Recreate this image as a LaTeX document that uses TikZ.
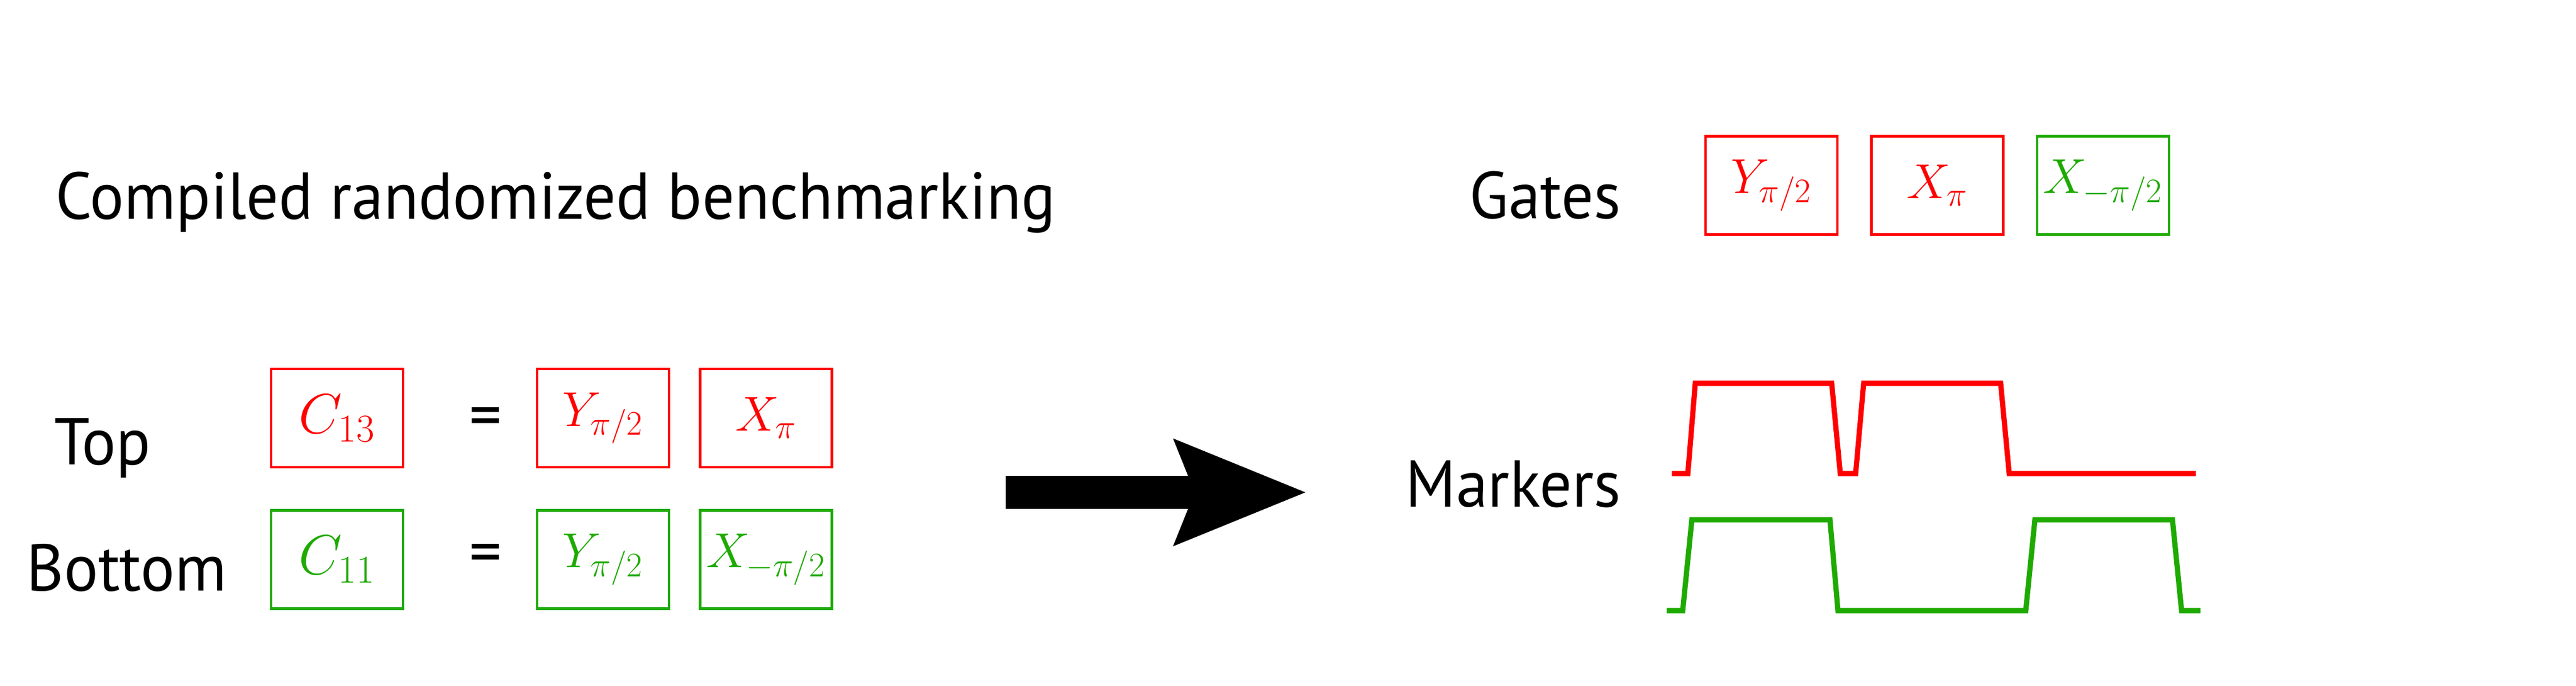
\documentclass[tikz,border=0pt]{standalone}
\usepackage{fix-cm}
\usepackage{fontspec}
\setmainfont{PT Sans}[FakeStretch=0.965]
\usetikzlibrary{positioning}
\usetikzlibrary{arrows.meta}
\definecolor{gatered}{RGB}{255,0,0}
\definecolor{gategreen}{RGB}{30,170,0}
\tikzset {
    gate/.style = {draw, line width=1.3pt, minimum width=2.31cm, minimum height=1.72cm, inner sep=0pt, font=\fontsize{24.5}{30}\selectfont},
    redgate/.style = {gate, draw=gatered, text=gatered},
    greengate/.style = {gate, draw=gategreen, text=gategreen},
    cliff/.style = {font=\fontsize{28}{34}\selectfont},
    lbl/.style = {inner sep=0pt, font=\fontsize{33}{40}\selectfont},
    pulse/.style = {line width=2.6pt, line join=miter}
}

\begin{document}
\begin{tikzpicture}
	\useasboundingbox (0,0) rectangle (45.13,12);
	% title and gate set
	\node (title) [lbl, anchor=base west] at (0.97,8.16) {Compiled randomized benchmarking};
	\node (gates) [lbl, anchor=base east] at (28.40,8.17) {Gates};
	\node (gy) [redgate] at (31.035,8.755) {$Y_{\pi/2}$};
	\node (gx) [redgate, right=0.55cm of gy] {$X_{\pi}$};
	\node (gxm) [greengate, right=0.55cm of gx] {$X_{-\pi/2}$};
	% decomposition
	\node (top) [lbl, anchor=base west] at (0.95,3.87) {Top};
	\node (bottom) [lbl, anchor=base west] at (0.46,1.66) {Bottom};
	\node (c13) [redgate, cliff] at (5.905,4.68) {$C_{13}$};
	\node (c11) [greengate, cliff, below=0.71cm of c13] {$C_{11}$};
	\node (eqtop) [lbl] at (8.505,4.60) {=};
	\node (eqbot) [lbl] at (8.505,2.21) {=};
	\node (ytop) [redgate] at (10.565,4.68) {$Y_{\pi/2}$};
	\node (xtop) [redgate, right=0.5cm of ytop] {$X_{\pi}$};
	\node (ybot) [greengate, below=0.71cm of ytop] {$Y_{\pi/2}$};
	\node (xbot) [greengate, right=0.5cm of ybot] {$X_{-\pi/2}$};
	% big arrow
	\coordinate (arrs) at (17.62,3.38);
	\coordinate (arre) at (22.87,3.38);
	\draw[line width=0.58cm, -{Stealth[length=2.32cm, width=1.89cm, inset=0.38cm, line width=0pt]}] (arrs) -- (arre);
	% marker pulses
	\node (markers) [lbl, anchor=base east] at (28.40,3.13) {Markers};
	\draw[pulse, gatered] (29.29,3.71) -- (29.57,3.71) -- (29.70,5.29) -- (32.09,5.29) -- (32.24,3.71) -- (32.51,3.71)
		-- (32.65,5.29) -- (35.05,5.29) -- (35.20,3.71) -- (38.47,3.71);
	\draw[pulse, gategreen] (29.20,1.31) -- (29.48,1.31) -- (29.64,2.90) -- (32.06,2.90) -- (32.20,1.31) -- (35.49,1.31)
		-- (35.65,2.90) -- (38.06,2.90) -- (38.22,1.31) -- (38.55,1.31);
\end{tikzpicture}
\end{document}
